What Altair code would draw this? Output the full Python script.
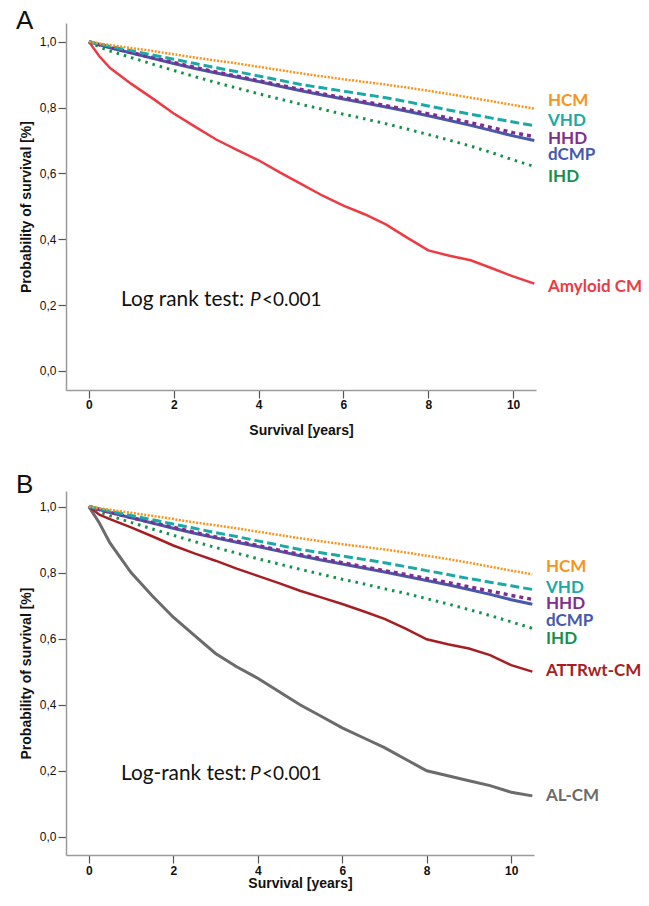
import altair as alt
import pandas as pd

# ---------------- data ----------------
times = [0, 0.25, 0.5, 1, 1.5, 2, 2.5, 3, 3.5, 4, 4.5, 5, 5.5, 6, 6.5, 7, 7.5, 8, 8.5, 9, 9.5, 10, 10.5]

a_hcm = [1.0, 0.995, 0.99, 0.981, 0.972, 0.962, 0.952, 0.943, 0.934, 0.924, 0.914, 0.904, 0.895, 0.886, 0.878, 0.870, 0.861, 0.851, 0.841, 0.830, 0.819, 0.808, 0.797]
a_vhd = [1.0, 0.993, 0.986, 0.973, 0.960, 0.947, 0.934, 0.921, 0.909, 0.896, 0.883, 0.870, 0.860, 0.850, 0.840, 0.830, 0.818, 0.805, 0.792, 0.780, 0.768, 0.756, 0.745]
a_hhd = [1.0, 0.991, 0.983, 0.967, 0.952, 0.937, 0.922, 0.908, 0.895, 0.882, 0.868, 0.855, 0.842, 0.830, 0.818, 0.806, 0.794, 0.781, 0.768, 0.754, 0.739, 0.724, 0.712]
a_dcmp = [1.0, 0.991, 0.982, 0.966, 0.950, 0.934, 0.919, 0.905, 0.892, 0.879, 0.865, 0.851, 0.838, 0.826, 0.814, 0.802, 0.789, 0.775, 0.761, 0.746, 0.730, 0.714, 0.700]
a_ihd = [1.0, 0.984, 0.972, 0.952, 0.932, 0.913, 0.894, 0.876, 0.859, 0.842, 0.826, 0.810, 0.795, 0.780, 0.766, 0.751, 0.735, 0.718, 0.701, 0.683, 0.663, 0.641, 0.621]
a_amyloid = [1.0, 0.955, 0.92, 0.872, 0.828, 0.782, 0.742, 0.703, 0.671, 0.640, 0.603, 0.568, 0.533, 0.502, 0.476, 0.445, 0.405, 0.366, 0.350, 0.336, 0.312, 0.287, 0.265]

b_hcm = [1.0, 0.995, 0.99, 0.981, 0.972, 0.962, 0.952, 0.943, 0.934, 0.924, 0.914, 0.904, 0.895, 0.886, 0.878, 0.870, 0.861, 0.851, 0.841, 0.830, 0.818, 0.806, 0.795]
b_vhd = [1.0, 0.993, 0.986, 0.973, 0.960, 0.947, 0.934, 0.921, 0.909, 0.896, 0.883, 0.870, 0.860, 0.850, 0.840, 0.830, 0.818, 0.806, 0.794, 0.782, 0.771, 0.760, 0.749]
b_hhd = [1.0, 0.991, 0.983, 0.967, 0.952, 0.937, 0.922, 0.908, 0.895, 0.882, 0.868, 0.855, 0.842, 0.830, 0.818, 0.806, 0.794, 0.782, 0.770, 0.757, 0.744, 0.731, 0.719]
b_dcmp = [1.0, 0.991, 0.982, 0.966, 0.950, 0.934, 0.919, 0.905, 0.892, 0.879, 0.865, 0.851, 0.838, 0.826, 0.814, 0.802, 0.789, 0.776, 0.763, 0.749, 0.734, 0.718, 0.704]
b_ihd = [1.0, 0.984, 0.972, 0.952, 0.932, 0.913, 0.894, 0.876, 0.859, 0.842, 0.826, 0.810, 0.795, 0.780, 0.766, 0.751, 0.737, 0.721, 0.705, 0.688, 0.670, 0.651, 0.631]
b_attrwt = [1.0, 0.975, 0.962, 0.937, 0.910, 0.882, 0.858, 0.836, 0.812, 0.790, 0.768, 0.745, 0.725, 0.705, 0.683, 0.660, 0.630, 0.598, 0.583, 0.570, 0.550, 0.520, 0.500]
b_alcm = [1.0, 0.95, 0.89, 0.80, 0.73, 0.665, 0.61, 0.555, 0.515, 0.48, 0.44, 0.40, 0.365, 0.33, 0.30, 0.27, 0.235, 0.20, 0.185, 0.17, 0.155, 0.135, 0.124]

a_names = ["HCM", "VHD", "HHD", "dCMP", "IHD", "Amyloid CM"]
a_label_pos = [0.82, 0.758, 0.706, 0.655, 0.59, 0.255]
b_names = ["HCM", "VHD", "HHD", "dCMP", "IHD", "ATTRwt-CM", "AL-CM"]
b_label_pos = [0.816, 0.752, 0.704, 0.653, 0.598, 0.501, 0.124]

y_ticks = [0.0, 0.2, 0.4, 0.6, 0.8, 1.0]
x_ticks = [0, 2, 4, 6, 8, 10]

# ---------------- styles ----------------
STYLE = {
    "HCM": dict(color="#F7941D", dash=[2, 1.5], width=2.5),
    "VHD": dict(color="#1AA9A4", dash=[9, 4], width=3),
    "HHD": dict(color="#7E2F8E", dash=[4, 4], width=3.5),
    "dCMP": dict(color="#4659AA", dash=None, width=3),
    "IHD": dict(color="#15904B", dash=[2.5, 5], width=3),
    "Amyloid CM": dict(color="#EE3A43", dash=None, width=2.5),
    "ATTRwt-CM": dict(color="#A61E22", dash=None, width=2.5),
    "AL-CM": dict(color="#6B6B6B", dash=None, width=3),
}
DRAW_ORDER = ["AL-CM", "ATTRwt-CM", "Amyloid CM", "IHD", "dCMP", "HHD", "VHD", "HCM"]

ANN_FONT = "Lato"
AX_FONT = "Liberation Sans"


def panel(series, label_pos, letter, letter_y, logrank, ydom, W, H, xlabpad, xtitlepad):
    xs = alt.Scale(domain=[-0.54, 10.54], nice=False, zero=False)
    ys = alt.Scale(domain=ydom, nice=False, zero=False)
    X = alt.X("t:Q", scale=xs, title="Survival [years]",
              axis=alt.Axis(values=x_ticks, format="d", labelFontWeight="bold",
                            labelPadding=xlabpad, titlePadding=xtitlepad))
    Y = alt.Y("v:Q", scale=ys, title="Probability of survival [%]",
              axis=alt.Axis(values=y_ticks, format=".1f",
                            labelExpr="replace(datum.label, '.', ',')"))
    layers = []
    for name in DRAW_ORDER:
        if name not in series:
            continue
        st = STYLE[name]
        df = pd.DataFrame({"t": times, "v": series[name]})
        kw = dict(color=st["color"], strokeWidth=st["width"], clip=False)
        if st["dash"]:
            kw["strokeDash"] = st["dash"]
        layers.append(alt.Chart(df).mark_line(**kw).encode(x=X, y=Y))
    names = list(series.keys())
    ldf = pd.DataFrame({"name": names, "v": label_pos,
                        "c": [STYLE[n]["color"] for n in names]})
    layers.append(
        alt.Chart(ldf).mark_text(align="left", baseline="middle", font=ANN_FONT,
                                 fontWeight="bold", fontSize=17)
        .encode(x=alt.value(W + 12), y=Y, text="name:N",
                color=alt.Color("c:N", scale=None))
    )
    # log-rank annotation
    parts = [(logrank[0], "normal", 55, 20.8), ("P", "italic", 184, 19), ("<0.001", "normal", 196, 19)]
    for txt, style, xpix, fs in parts:
        layers.append(
            alt.Chart(pd.DataFrame({"txt": [txt], "v": [logrank[1]]}))
            .mark_text(align="left", baseline="alphabetic", font=ANN_FONT,
                       fontSize=fs, fontStyle=style, color="#111")
            .encode(x=alt.value(xpix), y=Y, text="txt:N")
        )
    layers.append(
        alt.Chart(pd.DataFrame({"txt": [letter]}))
        .mark_text(align="left", baseline="top", font=AX_FONT,
                   fontSize=26, color="#111")
        .encode(x=alt.value(-50), y=alt.value(letter_y), text="txt:N")
    )
    return alt.layer(*layers).properties(width=W, height=H)


pa = panel(
    dict(zip(a_names, [a_hcm, a_vhd, a_hhd, a_dcmp, a_ihd, a_amyloid])),
    a_label_pos, "A", -15, ("Log rank test:", 0.197), [-0.058, 1.057], 470, 367, 1, 13)
pb = panel(
    dict(zip(b_names, [b_hcm, b_vhd, b_hhd, b_dcmp, b_ihd, b_attrwt, b_alcm])),
    b_label_pos, "B", -19, ("Log-rank test:", 0.172), [-0.055, 1.047], 468, 364, 2, 0)

chart = alt.vconcat(pa, pb, spacing=35).properties(
    padding={"left": 8, "top": 0, "right": -2, "bottom": 4}
).configure_view(stroke=None).configure_axis(
    grid=False,
    domainColor="#9a9a9a", domainWidth=1.5,
    tickColor="#555", tickSize=8, tickWidth=1.2,
    labelFont=AX_FONT, labelFontSize=12, labelColor="#111",
    titleFont=AX_FONT, titleFontSize=14, titleFontWeight="bold", titleColor="#111",
).configure_axisY(labelPadding=2, titlePadding=6)

chart.save("out.html", embed_options={"renderer": "svg", "actions": False})
